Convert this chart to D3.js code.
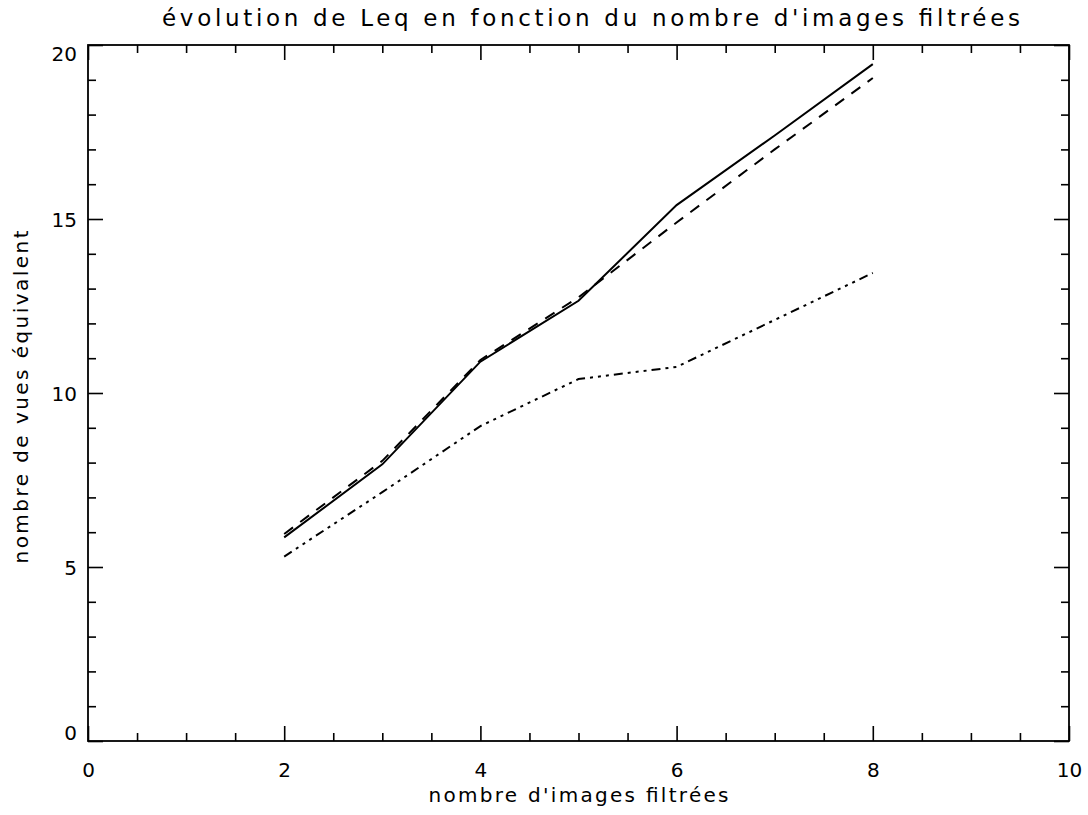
<!DOCTYPE html>
<html>
<head>
<meta charset="utf-8">
<script src="https://cdn.jsdelivr.net/npm/d3@7"></script>
<style>
  body { margin: 0; background: #fff; }
  text { font-family: "DejaVu Sans", sans-serif; fill: #000; }
</style>
</head>
<body>
<svg id="chart" width="1088" height="815"></svg>
<script>
const xValues = [2, 3, 4, 5, 6, 7, 8];
const solidSeries = [5.85, 7.95, 10.9, 12.65, 15.4, 17.4, 19.45];
const dashedSeries = [5.95, 8.05, 10.95, 12.75, 14.9, 17.0, 19.05];
const dashDotSeries = [5.3, 7.15, 9.05, 10.4, 10.75, 12.1, 13.45];
const xMajorTicks = [0, 2, 4, 6, 8, 10];
const yMajorTicks = [0, 5, 10, 15, 20];

const svg = d3.select("#chart");
const plotLeft = 88, plotRight = 1069, plotTop = 45, plotBottom = 741;

const x = d3.scaleLinear().domain([0, 10]).range([plotLeft, plotRight]);
const y = d3.scaleLinear().domain([0, 20]).range([plotBottom, plotTop]);

const xMinor = d3.range(0, 10.01, 0.5).filter((v) => v % 2 !== 0);
const yMinor = d3.range(0, 20.01, 1).filter((v) => v % 5 !== 0);

// Axes, ticks pointing inward like IDL
const styleAxis = (g) => {
  g.select(".domain").remove();
  g.selectAll("line").attr("stroke", "#000").attr("stroke-width", 1.6);
};

svg.append("g").attr("transform", `translate(0,${plotBottom})`)
  .call(d3.axisBottom(x).tickValues(xMajorTicks).tickSize(-15).tickPadding(36).tickFormat(d3.format("d")))
  .call(styleAxis)
  .call((g) => g.selectAll("text").attr("font-size", 20).attr("dy", 0));
svg.append("g").attr("transform", `translate(0,${plotBottom})`)
  .call(d3.axisBottom(x).tickValues(xMinor).tickSize(-8).tickFormat(""))
  .call(styleAxis);
svg.append("g").attr("transform", `translate(0,${plotTop})`)
  .call(d3.axisTop(x).tickValues(xMajorTicks).tickSize(-15).tickFormat(""))
  .call(styleAxis);
svg.append("g").attr("transform", `translate(0,${plotTop})`)
  .call(d3.axisTop(x).tickValues(xMinor).tickSize(-8).tickFormat(""))
  .call(styleAxis);

svg.append("g").attr("transform", `translate(${plotLeft},0)`)
  .call(d3.axisLeft(y).tickValues(yMajorTicks).tickSize(-15).tickPadding(11).tickFormat(d3.format("d")))
  .call(styleAxis)
  .call((g) => g.selectAll("text").attr("font-size", 20)
    // end labels are pulled inside the axis range
    .attr("dy", (d) => (d === 20 ? "0.75em" : d === 0 ? "-0.1em" : "0.36em")));
svg.append("g").attr("transform", `translate(${plotLeft},0)`)
  .call(d3.axisLeft(y).tickValues(yMinor).tickSize(-8).tickFormat(""))
  .call(styleAxis);
svg.append("g").attr("transform", `translate(${plotRight},0)`)
  .call(d3.axisRight(y).tickValues(yMajorTicks).tickSize(-15).tickFormat(""))
  .call(styleAxis);
svg.append("g").attr("transform", `translate(${plotRight},0)`)
  .call(d3.axisRight(y).tickValues(yMinor).tickSize(-8).tickFormat(""))
  .call(styleAxis);

// Box
svg.append("rect")
  .attr("x", plotLeft).attr("y", plotTop)
  .attr("width", plotRight - plotLeft).attr("height", plotBottom - plotTop)
  .attr("fill", "none").attr("stroke", "#000").attr("stroke-width", 1.8);

// Lines
const line = d3.line().x((d) => x(d[0])).y((d) => y(d[1]));
const series = [
  { values: solidSeries, dash: null },
  { values: dashedSeries, dash: "11,9" },
  { values: dashDotSeries, dash: "9,5,3,5,3,5,3,5" },
];
series.forEach((s) => {
  svg.append("path")
    .datum(xValues.map((v, i) => [v, s.values[i]]))
    .attr("d", line)
    .attr("fill", "none")
    .attr("stroke", "#000")
    .attr("stroke-width", 2)
    .attr("stroke-dasharray", s.dash);
});

// Titles (wide, Hershey-like spacing)
svg.append("text")
  .attr("x", 591).attr("y", 26)
  .attr("text-anchor", "middle").attr("font-size", 23)
  .attr("textLength", 858).attr("lengthAdjust", "spacing")
  .text("évolution de Leq en fonction du nombre d'images filtrées");
svg.append("text")
  .attr("x", (plotLeft + plotRight) / 2).attr("y", 802)
  .attr("text-anchor", "middle").attr("font-size", 20)
  .attr("textLength", 300).attr("lengthAdjust", "spacing")
  .text("nombre d'images filtrées");
svg.append("text")
  .attr("transform", `translate(28,397) rotate(-90)`)
  .attr("text-anchor", "middle").attr("font-size", 20)
  .attr("textLength", 333).attr("lengthAdjust", "spacing")
  .text("nombre de vues équivalent");
</script>
</body>
</html>
